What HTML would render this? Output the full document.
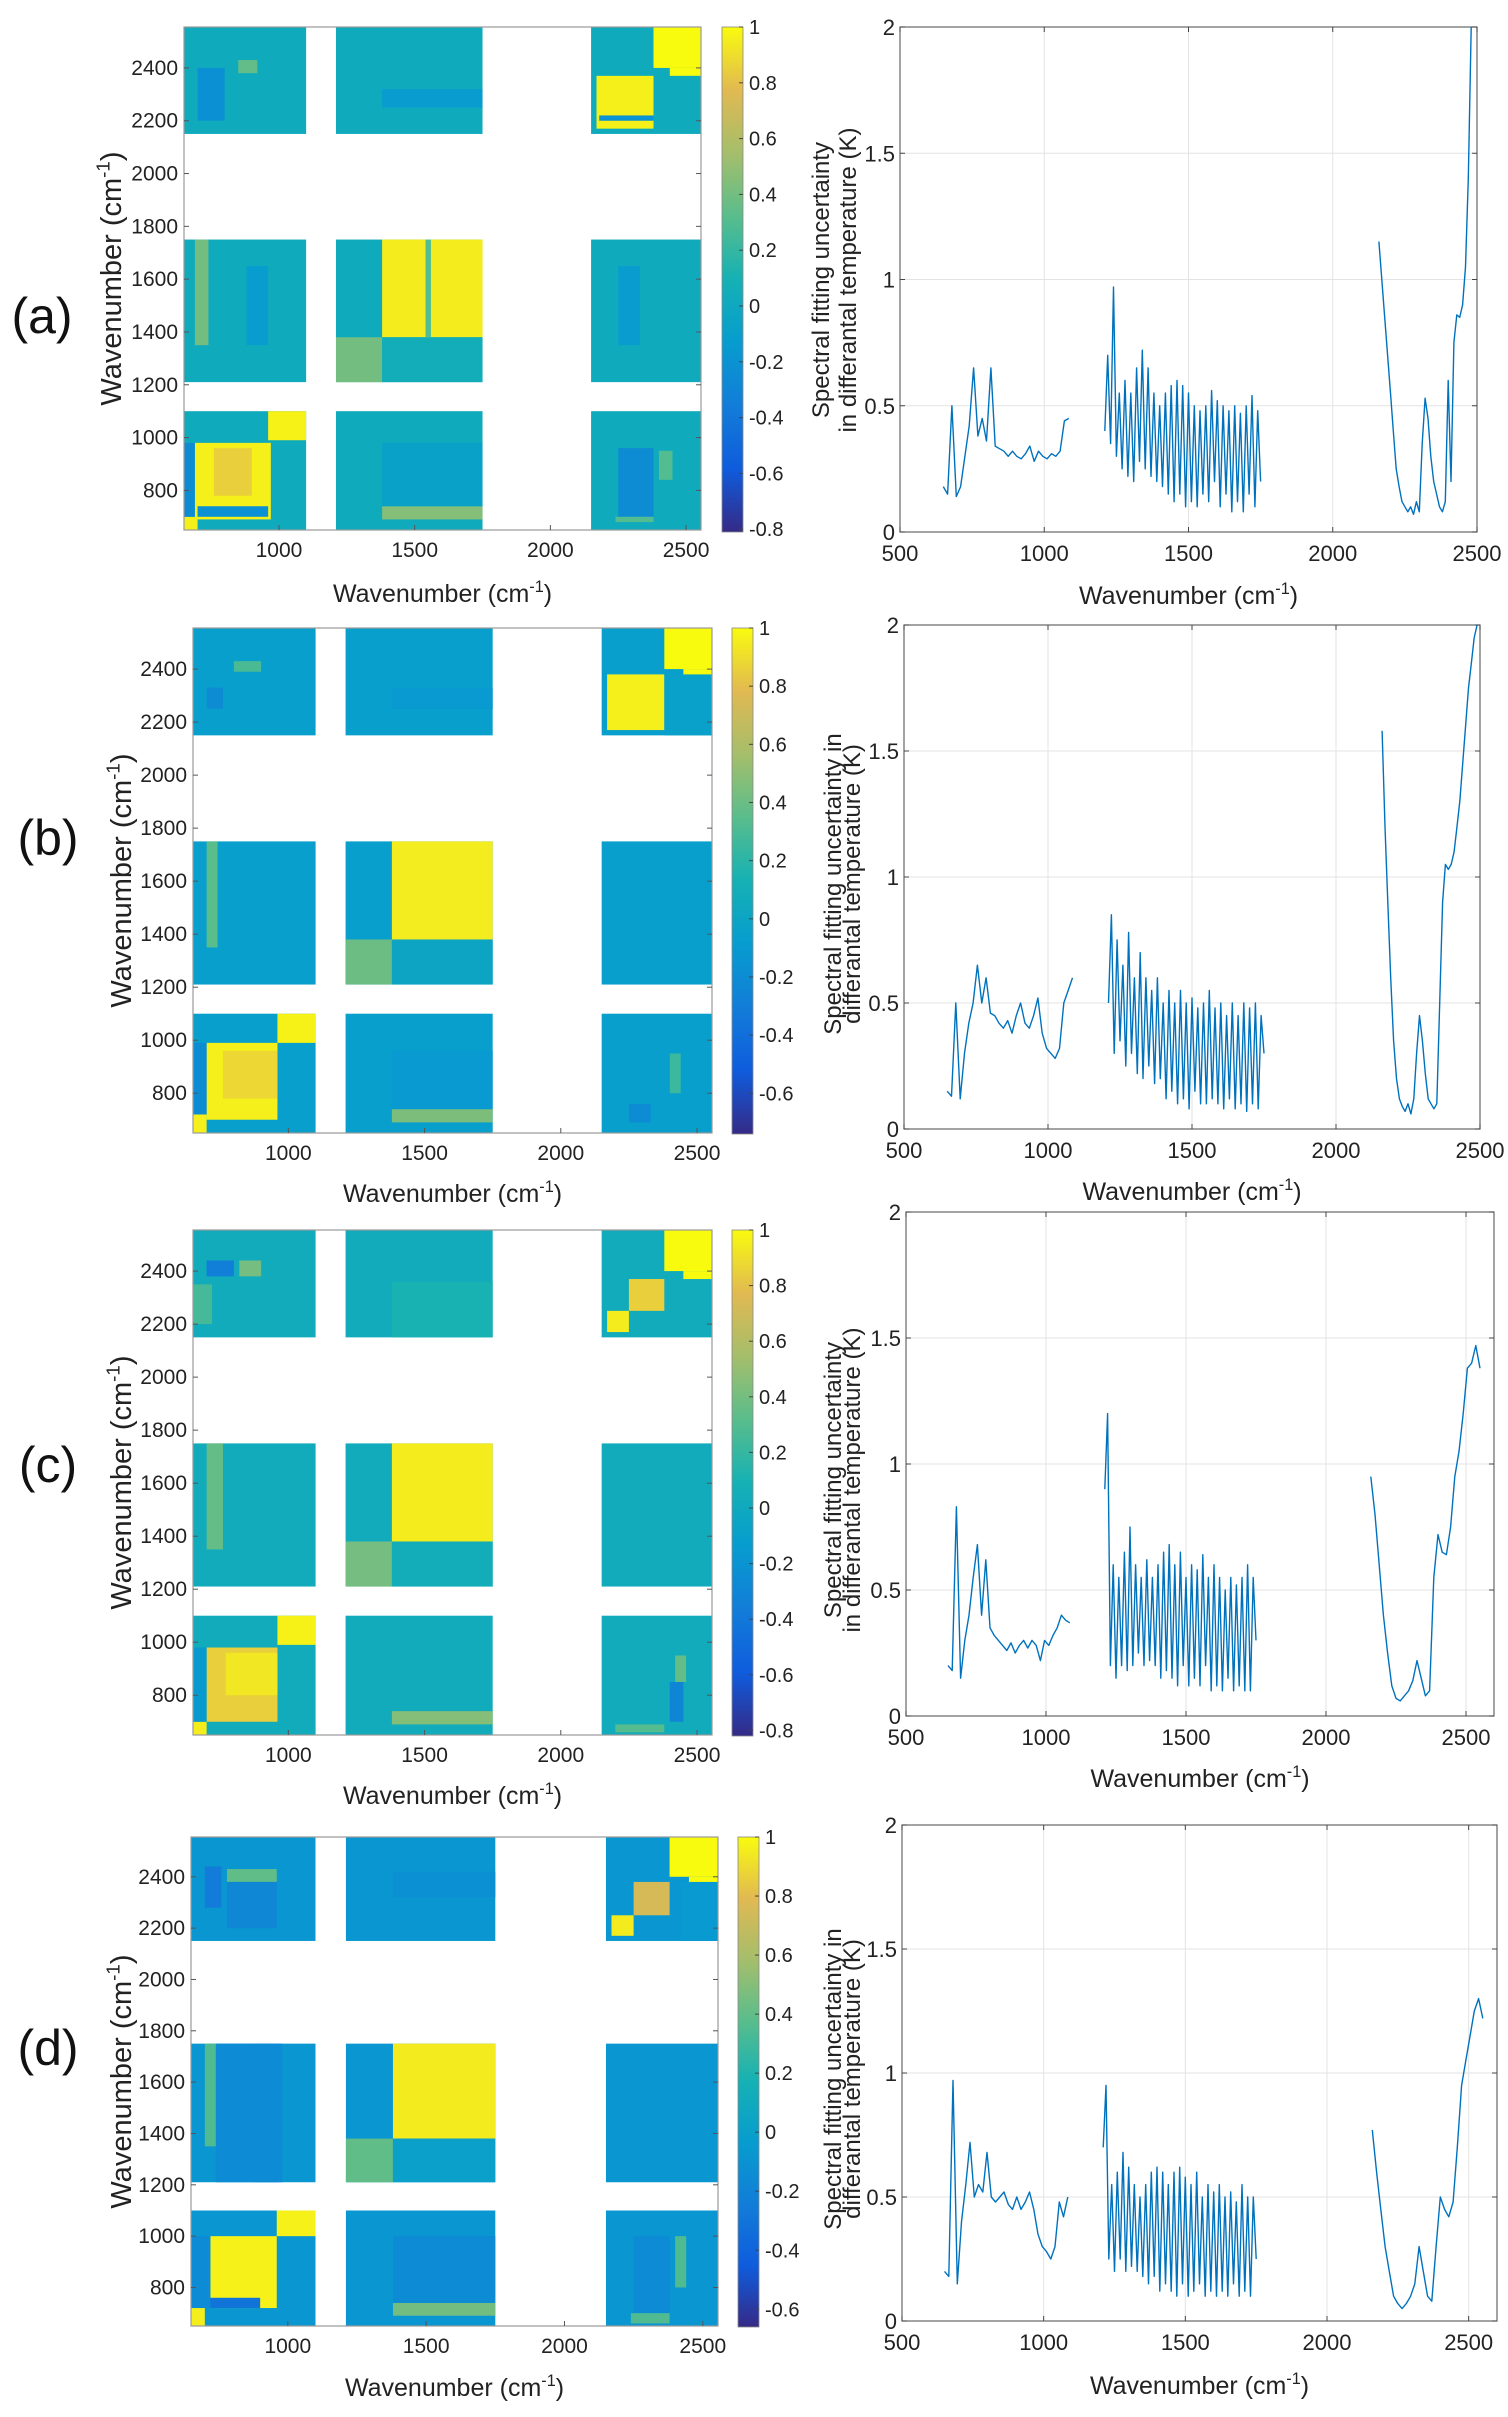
<!DOCTYPE html>
<html><head><meta charset="utf-8">
<style>
html,body{margin:0;padding:0;background:#fff;}
svg{display:block;font-family:"Liberation Sans",sans-serif;}
</style></head>
<body>
<svg id="fig" width="1508" height="2417" viewBox="0 0 1508 2417" xmlns="http://www.w3.org/2000/svg"></svg>
<script>
// ---------- data ----------
const segStartA = [650, 1210, 2160];
const segStepA = [15, 10, 10];
const valsA1 = [0.18,0.15,0.5,0.14,0.18,0.30,0.42,0.65,0.38,0.45,0.36,0.65,0.34,0.33,0.32,0.30,0.32,0.30,0.29,0.31,0.34,0.28,0.32,0.30,0.29,0.31,0.30,0.32,0.44,0.45];
const valsA2 = [0.4,0.7,0.35,0.97,0.3,0.55,0.25,0.6,0.22,0.55,0.2,0.65,0.28,0.72,0.25,0.65,0.22,0.55,0.2,0.5,0.18,0.55,0.15,0.58,0.12,0.6,0.15,0.58,0.1,0.55,0.12,0.5,0.1,0.48,0.15,0.5,0.12,0.56,0.2,0.52,0.1,0.5,0.15,0.48,0.08,0.5,0.12,0.47,0.08,0.5,0.15,0.54,0.1,0.48,0.2];
const valsA3 = [1.15,1.0,0.85,0.7,0.55,0.4,0.25,0.18,0.12,0.1,0.08,0.1,0.07,0.12,0.08,0.35,0.53,0.45,0.3,0.2,0.15,0.1,0.08,0.12,0.6,0.2,0.75,0.86,0.85,0.9,1.05,1.4,2.0];

const segStartB = [650, 1210, 2160];
const segStepB = [15, 10, 10];
const valsB1 = [0.15,0.13,0.5,0.12,0.3,0.42,0.5,0.65,0.5,0.6,0.46,0.45,0.42,0.40,0.43,0.38,0.45,0.5,0.42,0.40,0.45,0.52,0.38,0.32,0.30,0.28,0.32,0.5,0.55,0.6];
const valsB2 = [0.5,0.85,0.3,0.75,0.35,0.65,0.25,0.78,0.3,0.6,0.22,0.7,0.2,0.6,0.25,0.55,0.18,0.6,0.2,0.5,0.12,0.55,0.15,0.5,0.1,0.55,0.12,0.5,0.08,0.52,0.15,0.48,0.1,0.5,0.1,0.55,0.12,0.48,0.1,0.5,0.08,0.45,0.12,0.5,0.08,0.45,0.1,0.5,0.07,0.48,0.1,0.5,0.08,0.45,0.3];
const valsB3 = [1.58,1.2,0.9,0.6,0.35,0.2,0.12,0.09,0.07,0.1,0.06,0.12,0.3,0.45,0.35,0.22,0.12,0.1,0.08,0.1,0.5,0.9,1.05,1.03,1.05,1.1,1.2,1.3,1.45,1.6,1.75,1.85,1.95,2.0];

const segStartC = [650, 1210, 2160];
const segStepC = [15, 10, 15];
const valsC1 = [0.2,0.18,0.83,0.15,0.3,0.4,0.55,0.68,0.4,0.62,0.35,0.32,0.3,0.28,0.26,0.29,0.25,0.28,0.3,0.27,0.3,0.28,0.22,0.3,0.28,0.32,0.35,0.4,0.38,0.37];
const valsC2 = [0.9,1.2,0.2,0.6,0.15,0.55,0.2,0.65,0.18,0.75,0.2,0.6,0.25,0.55,0.2,0.62,0.22,0.55,0.2,0.6,0.15,0.65,0.18,0.68,0.15,0.6,0.12,0.65,0.2,0.55,0.12,0.6,0.15,0.58,0.12,0.64,0.2,0.55,0.1,0.6,0.12,0.55,0.1,0.5,0.15,0.55,0.1,0.52,0.12,0.55,0.1,0.6,0.1,0.55,0.3];
const valsC3 = [0.95,0.8,0.6,0.4,0.25,0.12,0.07,0.06,0.08,0.1,0.14,0.22,0.15,0.08,0.1,0.55,0.72,0.65,0.64,0.75,0.95,1.05,1.2,1.38,1.4,1.47,1.38];

const segStartD = [650, 1210, 2160];
const segStepD = [15, 10, 15];
const valsD1 = [0.2,0.18,0.97,0.15,0.4,0.55,0.72,0.5,0.55,0.52,0.68,0.5,0.48,0.5,0.52,0.47,0.45,0.5,0.45,0.48,0.52,0.45,0.35,0.3,0.28,0.25,0.3,0.48,0.42,0.5];
const valsD2 = [0.7,0.95,0.25,0.55,0.2,0.6,0.25,0.68,0.2,0.62,0.22,0.55,0.2,0.5,0.18,0.55,0.15,0.6,0.18,0.62,0.12,0.6,0.15,0.55,0.12,0.6,0.1,0.62,0.15,0.58,0.1,0.55,0.12,0.6,0.15,0.5,0.1,0.55,0.12,0.52,0.1,0.55,0.12,0.5,0.1,0.52,0.15,0.48,0.1,0.55,0.12,0.5,0.1,0.5,0.25];
const valsD3 = [0.77,0.6,0.45,0.3,0.2,0.1,0.07,0.05,0.07,0.1,0.15,0.3,0.2,0.1,0.08,0.3,0.5,0.45,0.42,0.48,0.7,0.95,1.05,1.15,1.25,1.3,1.22];

// heatmap blocks (wavenumber ranges) and correlation patches [x0,x1,y0,y1,value]
const hmBlocks = [[650,1100],[1210,1750],[2150,2555]];
const hmBase = [0.02, -0.06, 0.02, -0.08];
const patchesA = [
 [650,700,650,700,0.96],[690,970,690,980,0.96],[760,900,780,960,0.85],[960,1100,990,1100,0.97],[650,690,700,980,-0.25],[700,960,700,740,-0.22],
 [1210,1380,1210,1380,0.4],[1380,1750,1380,1750,0.95],[1380,1750,1210,1380,0.05],[1540,1560,1380,1750,0.3],
 [2170,2380,2170,2370,0.96],[2380,2555,2400,2555,1.0],[2440,2555,2370,2400,1.0],[2180,2380,2200,2220,-0.2],
 [1380,1750,690,740,0.45],[1380,1750,740,980,-0.08],
 [690,740,1350,1750,0.4],[880,960,1350,1650,-0.12],
 [2250,2380,700,960,-0.25],[2400,2450,840,950,0.3],[2240,2380,680,700,0.3],
 [700,800,2200,2400,-0.22],[850,920,2380,2430,0.35],
 [2250,2330,1350,1650,-0.12],[1380,1750,2250,2320,-0.12]
];
const patchesB = [
 [650,700,650,720,0.96],[700,960,700,990,0.96],[760,960,780,960,0.88],[960,1100,990,1100,0.97],[650,700,720,990,-0.2],
 [1210,1380,1210,1380,0.4],[1380,1750,1380,1750,0.95],[1380,1750,1210,1380,0.0],
 [2170,2380,2170,2380,0.96],[2380,2555,2400,2555,1.0],[2450,2555,2370,2400,1.0],[2380,2555,2150,2380,-0.05],
 [1380,1750,690,740,0.45],[1380,1750,740,960,-0.1],
 [700,740,1350,1750,0.35],
 [2250,2330,690,760,-0.2],[2400,2440,800,950,0.25],
 [700,760,2250,2330,-0.2],[800,900,2390,2430,0.3],
 [1380,1750,2250,2330,-0.1]
];
const patchesC = [
 [650,700,650,700,0.95],[700,960,700,980,0.85],[770,960,800,960,0.93],[960,1100,990,1100,0.97],[650,700,700,980,-0.15],
 [1210,1380,1210,1380,0.4],[1380,1750,1380,1750,0.95],[1380,1750,1210,1380,0.05],
 [2170,2250,2170,2250,0.95],[2250,2380,2250,2370,0.85],[2380,2555,2400,2555,1.0],[2450,2555,2370,2400,1.0],
 [1380,1750,690,740,0.45],
 [700,760,1350,1750,0.35],
 [2400,2450,700,850,-0.3],[2420,2460,850,950,0.35],[2200,2380,660,690,0.3],
 [700,800,2380,2440,-0.35],[820,900,2380,2440,0.4],[650,720,2200,2350,0.25],
 [1380,1750,2150,2360,0.1]
];
const patchesD = [
 [650,700,650,720,0.96],[720,960,720,1000,0.97],[960,1100,1000,1100,0.97],[700,900,720,760,-0.3],[650,720,720,1000,-0.15],
 [1210,1380,1210,1380,0.4],[1380,1750,1380,1750,0.95],[1380,1750,1210,1380,0.0],[880,980,1210,1750,-0.15],
 [2170,2250,2170,2250,0.95],[2250,2380,2250,2380,0.75],[2380,2555,2400,2555,1.0],[2450,2555,2370,2400,1.0],[2420,2555,2150,2380,-0.05],
 [1380,1750,690,740,0.45],[1380,1750,740,1000,-0.15],
 [700,740,1350,1750,0.35],[740,960,1210,1750,-0.15],
 [2250,2380,700,1000,-0.15],[2400,2440,800,1000,0.35],[2240,2380,660,700,0.35],
 [700,760,2280,2440,-0.25],[780,960,2380,2430,0.4],[780,960,2200,2380,-0.18],
 [1380,1750,2320,2420,-0.12]
];

const hmTicks = [800,1000,1200,1400,1600,1800,2000,2200,2400];
const hmXTicks = [1000,1500,2000,2500];
const cbTicksAC = [1,0.8,0.6,0.4,0.2,0,-0.2,-0.4,-0.6,-0.8];
const cbTicksBD = [1,0.8,0.6,0.4,0.2,0,-0.2,-0.4,-0.6];
const lineYTicks = [0,0.5,1,1.5,2];
const lineXTicks = [500,1000,1500,2000,2500];

// ---------- layout ----------
const panels = [
 {id:'a', label:'(a)', lx:42, ly:316,
  hm:{l:184,r:701,t:27,b:530}, cb:{l:722,r:743,t:27,b:532,min:-0.81,max:1,ticks:cbTicksAC},
  ln:{l:900,r:1477,t:27,b:532,xmax:2500}, starts:segStartA, steps:segStepA, vals:[valsA1,valsA2,valsA3], patches:patchesA, base:hmBase[0],
  yt:['Spectral fitting uncertainty','in differantal temperature (K)'], ytx:[820,847], yty:280, hmxt:593, lnxt:595, hmyt:111},
 {id:'b', label:'(b)', lx:48, ly:838,
  hm:{l:193,r:712,t:628,b:1133}, cb:{l:732,r:753,t:628,b:1134,min:-0.74,max:1,ticks:cbTicksBD},
  ln:{l:904,r:1480,t:625,b:1129,xmax:2500}, starts:segStartB, steps:segStepB, vals:[valsB1,valsB2,valsB3], patches:patchesB, base:hmBase[1],
  yt:['Spectral fitting uncertainty in','differantal temperature (K)'], ytx:[832,851], yty:884, hmxt:1193, lnxt:1191, hmyt:121},
 {id:'c', label:'(c)', lx:48, ly:1465,
  hm:{l:193,r:712,t:1230,b:1735}, cb:{l:732,r:753,t:1230,b:1736,min:-0.82,max:1,ticks:cbTicksAC},
  ln:{l:906,r:1494,t:1212,b:1716,xmax:2600}, starts:segStartC, steps:segStepC, vals:[valsC1,valsC2,valsC3], patches:patchesC, base:hmBase[2],
  yt:['Spectral fitting uncertainty','in differantal temperature (K)'], ytx:[832,851], yty:1480, hmxt:1795, lnxt:1778, hmyt:121},
 {id:'d', label:'(d)', lx:48, ly:2048,
  hm:{l:191,r:718,t:1837,b:2326}, cb:{l:738,r:759,t:1837,b:2327,min:-0.66,max:1,ticks:cbTicksBD},
  ln:{l:902,r:1497,t:1825,b:2321,xmax:2600}, starts:segStartD, steps:segStepD, vals:[valsD1,valsD2,valsD3], patches:patchesD, base:hmBase[3],
  yt:['Spectral fitting uncertainty in','differantal temperature (K)'], ytx:[832,851], yty:2079, hmxt:2387, lnxt:2385, hmyt:121}
];

const NS='http://www.w3.org/2000/svg';
const svg=document.getElementById('fig');
function mk(tag, attrs, parent){const e=document.createElementNS(NS,tag);for(const k in attrs)e.setAttribute(k,attrs[k]);(parent||svg).appendChild(e);return e;}

const parulaStops=[[53,42,135],[15,92,221],[18,125,216],[7,156,207],[21,177,180],[89,189,140],[165,190,107],[225,185,82],[249,251,14]];
function parula(t){t=Math.max(0,Math.min(1,t));const s=t*8,i=Math.min(7,Math.floor(s)),f=s-i;const a=parulaStops[i],b=parulaStops[i+1];
 return 'rgb('+a.map((v,k)=>Math.round(v+(b[k]-v)*f)).join(',')+')';}

function wavTitle(g,x,y,rot,fs){
 fs=fs||24;
 const t=mk('text',{x:x,y:y,'font-size':fs,'text-anchor':'middle',fill:'#222'},g);
 if(rot)t.setAttribute('transform','rotate(-90 '+x+' '+y+')');
 t.appendChild(document.createTextNode('Wavenumber (cm'));
 const s=mk('tspan',{dy:-fs*0.4,'font-size':fs*0.65},t);s.textContent='-1';
 const s2=mk('tspan',{dy:fs*0.4},t);s2.textContent=')';
 return t;
}

panels.forEach(p=>{
 const g=mk('g',{});
 
 
 const lab=mk('text',{x:p.lx,y:p.ly+17,'font-size':50,'text-anchor':'middle',fill:'#111'},g);
 
 
 lab.textContent=p.label;

 // ----- heatmap -----
 const H=p.hm, WMIN=650, WMAX=2555;
 const hx=v=>H.l+(v-WMIN)/(WMAX-WMIN)*(H.r-H.l);
 const hy=v=>H.b-(v-WMIN)/(WMAX-WMIN)*(H.b-H.t);
 const cv=v=>parula((v-p.cb.min)/(p.cb.max-p.cb.min));
 const hg=mk('g',{},g);
 
 
 hmBlocks.forEach((bx,i)=>hmBlocks.forEach((by,j)=>{
  const r=mk('rect',{x:hx(bx[0]),y:hy(by[1]),width:hx(bx[1])-hx(bx[0]),height:hy(by[0])-hy(by[1]),fill:cv(p.base)},hg);
  
  
 }));
 p.patches.forEach(q=>{
  hmBlocks.forEach(bx=>hmBlocks.forEach(by=>{
   const x0=Math.max(q[0],bx[0]),x1=Math.min(q[1],bx[1]),y0=Math.max(q[2],by[0]),y1=Math.min(q[3],by[1]);
   if(x1<=x0||y1<=y0)return;
   const r=mk('rect',{x:hx(x0),y:hy(y1),width:hx(x1)-hx(x0),height:hy(y0)-hy(y1),fill:cv(q[4])},hg);
   
   
  }));
 });
 mk('rect',{x:H.l,y:H.t,width:H.r-H.l,height:H.b-H.t,fill:'none',stroke:'#999','stroke-width':1.2},g);
 hmTicks.forEach(v=>{
  mk('line',{x1:H.l,x2:H.l+5,y1:hy(v),y2:hy(v),stroke:'#555'},g);
  mk('line',{x1:H.r,x2:H.r-5,y1:hy(v),y2:hy(v),stroke:'#555'},g);
  const t=mk('text',{x:H.l-6,y:hy(v)+7,'font-size':21,'text-anchor':'end',fill:'#222'},g);
  
  
  t.textContent=v;
 });
 hmXTicks.forEach(v=>{
  mk('line',{x1:hx(v),x2:hx(v),y1:H.b,y2:H.b-5,stroke:'#555'},g);
  const t=mk('text',{x:hx(v),y:H.b+27,'font-size':21,'text-anchor':'middle',fill:'#222'},g);
  
  
  t.textContent=v;
 });
 const hxt=wavTitle(g,(H.l+H.r)/2,p.hmxt+9,false,25);
 
 
 const hyt=wavTitle(g,p.hmyt+10,(H.t+H.b)/2,true,29);
 
 

 // ----- colorbar -----
 const C=p.cb;
 const gid='grad'+p.id;
 const defs=mk('defs',{},g);
 const lg=mk('linearGradient',{id:gid,x1:0,y1:1,x2:0,y2:0},defs);
 for(let k=0;k<=8;k++){mk('stop',{offset:k/8,'stop-color':parula(k/8)},lg);}
 const cbr=mk('rect',{x:C.l,y:C.t,width:C.r-C.l,height:C.b-C.t,fill:'url(#'+gid+')',stroke:'#888','stroke-width':0.8},g);
 
 
 const cy=v=>C.b-(v-C.min)/(C.max-C.min)*(C.b-C.t);
 C.ticks.forEach(v=>{
  mk('line',{x1:C.r-4,x2:C.r,y1:cy(v),y2:cy(v),stroke:'#444'},g);
  const t=mk('text',{x:C.r+6,y:cy(v)+7,'font-size':20,fill:'#222'},g);
  
  
  t.textContent=String(v);
 });

 // ----- line plot -----
 const L=p.ln;
 const lx=v=>L.l+(v-500)/(L.xmax-500)*(L.r-L.l);
 const ly=v=>L.b-v/2*(L.b-L.t);
 const lgp=mk('g',{},g);
 
 
 lineXTicks.forEach(v=>mk('line',{x1:lx(v),x2:lx(v),y1:L.t,y2:L.b,stroke:'#e3e3e3'},lgp));
 lineYTicks.forEach(v=>mk('line',{x1:L.l,x2:L.r,y1:ly(v),y2:ly(v),stroke:'#e3e3e3'},lgp));
 mk('rect',{x:L.l,y:L.t,width:L.r-L.l,height:L.b-L.t,fill:'none',stroke:'#666','stroke-width':1.2},lgp);
 lineXTicks.forEach(v=>{
  mk('line',{x1:lx(v),x2:lx(v),y1:L.b,y2:L.b-5,stroke:'#444'},lgp);
  mk('line',{x1:lx(v),x2:lx(v),y1:L.t,y2:L.t+5,stroke:'#444'},lgp);
  const t=mk('text',{x:lx(v),y:L.b+29,'font-size':22,'text-anchor':'middle',fill:'#222'},lgp);
  
  
  t.textContent=v;
 });
 lineYTicks.forEach(v=>{
  mk('line',{x1:L.l,x2:L.l+5,y1:ly(v),y2:ly(v),stroke:'#444'},lgp);
  mk('line',{x1:L.r,x2:L.r-5,y1:ly(v),y2:ly(v),stroke:'#444'},lgp);
  const t=mk('text',{x:L.l-5,y:ly(v)+8,'font-size':22,'text-anchor':'end',fill:'#222'},lgp);
  
  
  t.textContent=String(v);
 });
 p.vals.forEach((arr,si)=>{
  const pts=arr.map((v,i)=>lx(p.starts[si]+i*p.steps[si]).toFixed(1)+','+ly(Math.min(v,2)).toFixed(1)).join(' ');
  const pl=mk('polyline',{points:pts,fill:'none',stroke:'#0072bd','stroke-width':1.4,'stroke-linejoin':'round'},lgp);
  
  
 });
 const lxt=wavTitle(lgp,(L.l+L.r)/2,p.lnxt+9,false,25);
 
 
 p.yt.forEach((s,k)=>{
  const x=p.ytx[k]+9;
  const t=mk('text',{x:x,y:p.yty,'font-size':24,'text-anchor':'middle',fill:'#222',transform:'rotate(-90 '+x+' '+p.yty+')'},lgp);
  
  
  t.textContent=s;
 });
});
</script>
</body></html>
